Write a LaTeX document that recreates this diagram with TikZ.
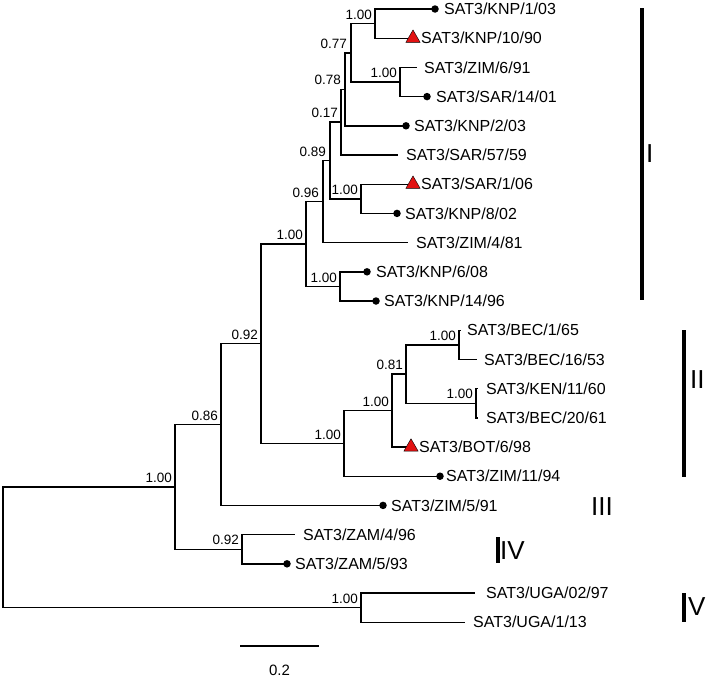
\documentclass[tikz,border=0pt]{standalone}
\usepackage{fontspec}
\setmainfont{Liberation Sans}
\usetikzlibrary{shapes.geometric}
\definecolor{markred}{RGB}{226,18,18}

\tikzset{
    branch/.style={line width=1.4pt, line join=miter},
    tiplbl/.style={anchor=base west, inner sep=0pt, yshift=-5.7pt, font=\fontsize{16}{19}\selectfont},
    bootlbl/.style={anchor=south east, inner sep=0pt, font=\fontsize{13.5}{16}\selectfont},
    tipdot/.style={circle, fill=black, inner sep=0pt, minimum size=7.5pt},
    tiptri/.style={regular polygon, regular polygon sides=3, fill=markred, draw=black, line width=0.4pt, inner sep=0pt, minimum size=16.5pt},
    cladebar/.style={line width=3.5pt},
    cladelbl/.style={anchor=west, inner sep=0pt, font=\fontsize{26}{30}\selectfont}
}

\begin{document}
\begin{tikzpicture}[x=1pt,y=-1pt]
    \useasboundingbox (0,0) rectangle (708,678);

    % tips
    \coordinate (tKNP103) at (435,9);
    \coordinate (tKNP1090) at (413,38.2);
    \coordinate (tZIM691) at (417,67.4);
    \coordinate (tSAR1401) at (427,96.6);
    \coordinate (tKNP203) at (406,125.8);
    \coordinate (tSAR5759) at (398,155);
    \coordinate (tSAR106) at (413,184.2);
    \coordinate (tKNP802) at (397,213.4);
    \coordinate (tZIM481) at (408,242.6);
    \coordinate (tKNP608) at (367,271.8);
    \coordinate (tKNP1496) at (376,301);
    \coordinate (tBEC165) at (461,330.2);
    \coordinate (tBEC1653) at (477,359.4);
    \coordinate (tKEN1160) at (478,388.6);
    \coordinate (tBEC2061) at (478,417.8);
    \coordinate (tBOT698) at (411,447);
    \coordinate (tZIM1194) at (440,476.2);
    \coordinate (tZIM591) at (383,505.4);
    \coordinate (tZAM496) at (295,534.6);
    \coordinate (tZAM593) at (287,563.8);
    \coordinate (tUGA0297) at (475,593);
    \coordinate (tUGA113) at (465,622.2);

    % internal nodes
    \coordinate (nKNP) at (375,23.6);
    \coordinate (nZS) at (400,82);
    \coordinate (n077) at (351,52.8);
    \coordinate (n078) at (345,89.3);
    \coordinate (n017) at (341,122.15);
    \coordinate (nSK) at (361,198.8);
    \coordinate (n089) at (330,160.5);
    \coordinate (n096) at (323,201.5);
    \coordinate (nKK) at (340,286.4);
    \coordinate (nI) at (306,244);
    \coordinate (nBEC) at (459,344.8);
    \coordinate (nKEN) at (476,403.2);
    \coordinate (n081) at (406,374);
    \coordinate (nIIa) at (392,410.5);
    \coordinate (nII) at (344,443.4);
    \coordinate (n092b) at (261,343.7);
    \coordinate (n086) at (221,424.5);
    \coordinate (nZAM) at (242,549.2);
    \coordinate (nA) at (175,486.9);
    \coordinate (nUGA) at (361,607.6);
    \coordinate (root) at (3,547.25);

    % branches
    \draw[branch] (root) |- (nA);
    \draw[branch] (root) |- (nUGA);
    \draw[branch] (nA) |- (n086);
    \draw[branch] (nA) |- (nZAM);
    \draw[branch] (n086) |- (n092b);
    \draw[branch] (n086) |- (tZIM591);
    \draw[branch] (n092b) |- (nI);
    \draw[branch] (n092b) |- (nII);
    \draw[branch] (nI) |- (n096);
    \draw[branch] (nI) |- (nKK);
    \draw[branch] (n096) |- (n089);
    \draw[branch] (n096) |- (tZIM481);
    \draw[branch] (n089) |- (n017);
    \draw[branch] (n089) |- (nSK);
    \draw[branch] (n017) |- (n078);
    \draw[branch] (n017) |- (tSAR5759);
    \draw[branch] (n078) |- (n077);
    \draw[branch] (n078) |- (tKNP203);
    \draw[branch] (n077) |- (nKNP);
    \draw[branch] (n077) |- (nZS);
    \draw[branch] (nKNP) |- (tKNP103);
    \draw[branch] (nKNP) |- (tKNP1090);
    \draw[branch] (nZS) |- (tZIM691);
    \draw[branch] (nZS) |- (tSAR1401);
    \draw[branch] (nSK) |- (tSAR106);
    \draw[branch] (nSK) |- (tKNP802);
    \draw[branch] (nKK) |- (tKNP608);
    \draw[branch] (nKK) |- (tKNP1496);
    \draw[branch] (nII) |- (nIIa);
    \draw[branch] (nII) |- (tZIM1194);
    \draw[branch] (nIIa) |- (n081);
    \draw[branch] (nIIa) |- (tBOT698);
    \draw[branch] (n081) |- (nBEC);
    \draw[branch] (n081) |- (nKEN);
    \draw[branch] (nBEC) |- (tBEC165);
    \draw[branch] (nBEC) |- (tBEC1653);
    \draw[branch] (nKEN) |- (tKEN1160);
    \draw[branch] (nKEN) |- (tBEC2061);
    \draw[branch] (nZAM) |- (tZAM496);
    \draw[branch] (nZAM) |- (tZAM593);
    \draw[branch] (nUGA) |- (tUGA0297);
    \draw[branch] (nUGA) |- (tUGA113);

    % markers
    \node[tipdot] (dKNP103) at (tKNP103) {};
    \node[tiptri] (rKNP1090) at (tKNP1090) {};
    \node[tipdot] (dSAR1401) at (tSAR1401) {};
    \node[tipdot] (dKNP203) at (tKNP203) {};
    \node[tiptri] (rSAR106) at (tSAR106) {};
    \node[tipdot] (dKNP802) at (tKNP802) {};
    \node[tipdot] (dKNP608) at (tKNP608) {};
    \node[tipdot] (dKNP1496) at (tKNP1496) {};
    \node[tiptri] (rBOT698) at (tBOT698) {};
    \node[tipdot] (dZIM1194) at (tZIM1194) {};
    \node[tipdot] (dZIM591) at (tZIM591) {};
    \node[tipdot] (dZAM593) at (tZAM593) {};

    % tip labels
    \node[tiplbl] (lKNP103) at ([xshift=9pt]tKNP103) {SAT3/KNP/1/03};
    \node[tiplbl] (lKNP1090) at ([xshift=8pt]tKNP1090) {SAT3/KNP/10/90};
    \node[tiplbl] (lZIM691) at ([xshift=7pt]tZIM691) {SAT3/ZIM/6/91};
    \node[tiplbl] (lSAR1401) at ([xshift=9pt]tSAR1401) {SAT3/SAR/14/01};
    \node[tiplbl] (lKNP203) at ([xshift=8pt]tKNP203) {SAT3/KNP/2/03};
    \node[tiplbl] (lSAR5759) at ([xshift=8pt]tSAR5759) {SAT3/SAR/57/59};
    \node[tiplbl] (lSAR106) at ([xshift=8pt]tSAR106) {SAT3/SAR/1/06};
    \node[tiplbl] (lKNP802) at ([xshift=8pt]tKNP802) {SAT3/KNP/8/02};
    \node[tiplbl] (lZIM481) at ([xshift=8pt]tZIM481) {SAT3/ZIM/4/81};
    \node[tiplbl] (lKNP608) at ([xshift=9pt]tKNP608) {SAT3/KNP/6/08};
    \node[tiplbl] (lKNP1496) at ([xshift=8pt]tKNP1496) {SAT3/KNP/14/96};
    \node[tiplbl] (lBEC165) at ([xshift=6pt]tBEC165) {SAT3/BEC/1/65};
    \node[tiplbl] (lBEC1653) at ([xshift=7pt]tBEC1653) {SAT3/BEC/16/53};
    \node[tiplbl] (lKEN1160) at ([xshift=8pt]tKEN1160) {SAT3/KEN/11/60};
    \node[tiplbl] (lBEC2061) at ([xshift=8pt]tBEC2061) {SAT3/BEC/20/61};
    \node[tiplbl] (lBOT698) at ([xshift=8pt]tBOT698) {SAT3/BOT/6/98};
    \node[tiplbl] (lZIM1194) at ([xshift=6pt]tZIM1194) {SAT3/ZIM/11/94};
    \node[tiplbl] (lZIM591) at ([xshift=8pt]tZIM591) {SAT3/ZIM/5/91};
    \node[tiplbl] (lZAM496) at ([xshift=8pt]tZAM496) {SAT3/ZAM/4/96};
    \node[tiplbl] (lZAM593) at ([xshift=8pt]tZAM593) {SAT3/ZAM/5/93};
    \node[tiplbl] (lUGA0297) at ([xshift=11pt]tUGA0297) {SAT3/UGA/02/97};
    \node[tiplbl] (lUGA113) at ([xshift=8pt]tUGA113) {SAT3/UGA/1/13};

    % support values
    \node[bootlbl] (bKNP) at ([xshift=-3pt,yshift=4pt]nKNP) {1.00};
    \node[bootlbl] (bZS) at ([xshift=-3pt,yshift=4pt]nZS) {1.00};
    \node[bootlbl] (b077) at ([xshift=-4pt,yshift=4pt]n077) {0.77};
    \node[bootlbl] (b078) at ([xshift=-4pt,yshift=4pt]n078) {0.78};
    \node[bootlbl] (b017) at ([xshift=-3pt,yshift=4pt]n017) {0.17};
    \node[bootlbl] (bSK) at ([xshift=-3pt,yshift=4pt]nSK) {1.00};
    \node[bootlbl] (b089) at ([xshift=-4pt,yshift=4pt]n089) {0.89};
    \node[bootlbl] (b096) at ([xshift=-4pt,yshift=4pt]n096) {0.96};
    \node[bootlbl] (bKK) at ([xshift=-3pt,yshift=4pt]nKK) {1.00};
    \node[bootlbl] (bI) at ([xshift=-3pt,yshift=4pt]nI) {1.00};
    \node[bootlbl] (bBEC) at ([xshift=-3pt,yshift=4pt]nBEC) {1.00};
    \node[bootlbl] (bKEN) at ([xshift=-3pt,yshift=4pt]nKEN) {1.00};
    \node[bootlbl] (b081) at ([xshift=-3pt,yshift=4pt]n081) {0.81};
    \node[bootlbl] (bIIa) at ([xshift=-3pt,yshift=4pt]nIIa) {1.00};
    \node[bootlbl] (bII) at ([xshift=-3pt,yshift=4pt]nII) {1.00};
    \node[bootlbl] (b092b) at ([xshift=-3pt,yshift=4pt]n092b) {0.92};
    \node[bootlbl] (b086) at ([xshift=-3pt,yshift=4pt]n086) {0.86};
    \node[bootlbl] (bZAM) at ([xshift=-3pt,yshift=4pt]nZAM) {0.92};
    \node[bootlbl] (bA) at ([xshift=-3pt,yshift=4pt]nA) {1.00};
    \node[bootlbl] (bUGA) at ([xshift=-3pt,yshift=4pt]nUGA) {1.00};

    % clades
    \draw[cladebar] (642,8) -- (642,300);
    \node[cladelbl] (cI) at (646,154) {I};
    \draw[cladebar] (684,330) -- (684,477);
    \node[cladelbl] (cII) at (690,380) {II};
    \node[cladelbl] (cIII) at (591,507) {III};
    \draw[cladebar] (498,537) -- (498,563);
    \node[cladelbl] (cIV) at (500,551) {IV};
    \draw[cladebar] (684,593) -- (684,622);
    \node[cladelbl] (cV) at (688,607) {V};

    % scale
    \coordinate (sL) at (240,646);
    \coordinate (sR) at (319,646);
    \draw[branch] (sL) -- (sR);
    \node[font=\fontsize{15}{18}\selectfont, inner sep=0pt] (sLbl) at (279.5,670) {0.2};
\end{tikzpicture}
\end{document}
